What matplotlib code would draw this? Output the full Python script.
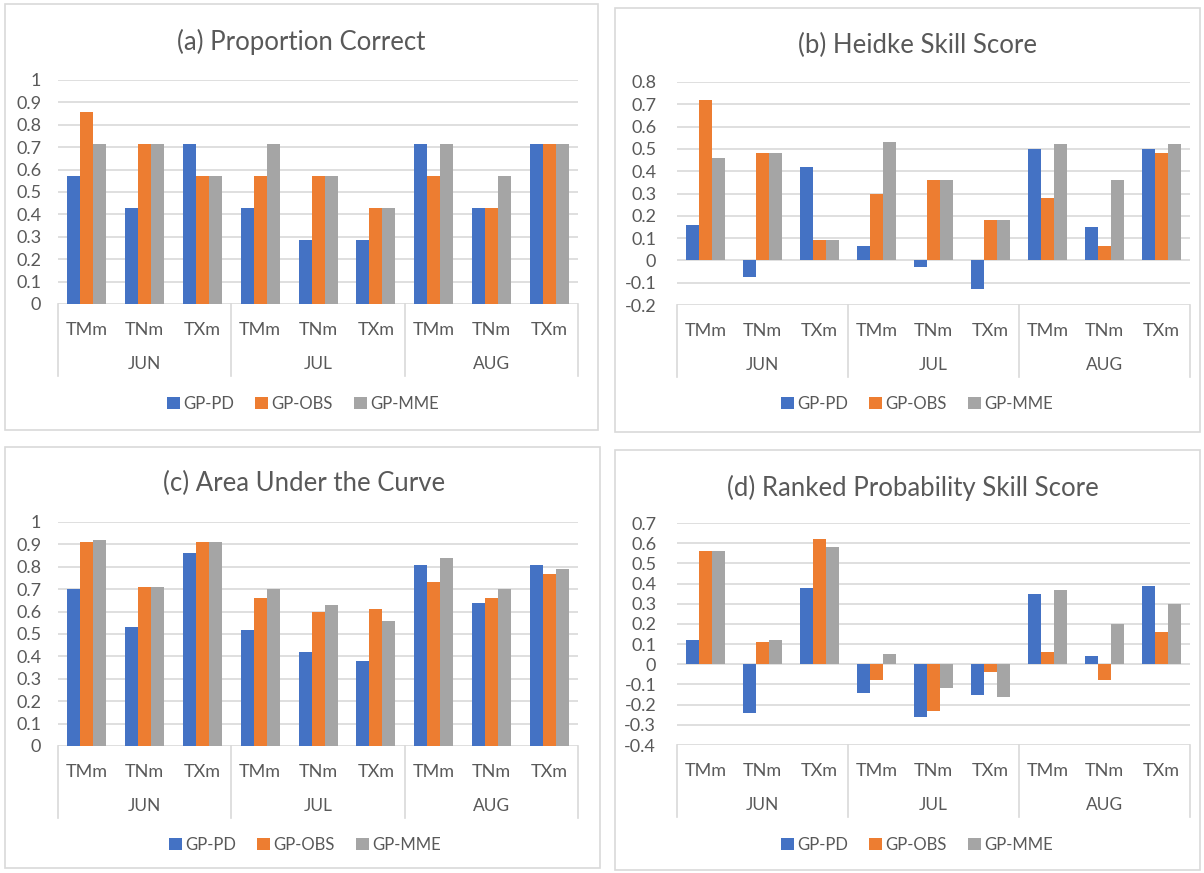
import matplotlib
matplotlib.use("Agg")
import matplotlib.pyplot as plt
from matplotlib.patches import Rectangle, Patch
from matplotlib.lines import Line2D

plt.rcParams['font.family'] = ['Lato', 'DejaVu Sans']

# ---------------- data ----------------
months = ["JUN", "JUL", "AUG"]
variables = ["TMm", "TNm", "TXm"]
series_names = ["GP-PD", "GP-OBS", "GP-MME"]

pc_pd  = [0.571, 0.429, 0.714, 0.429, 0.286, 0.286, 0.714, 0.429, 0.714]
pc_obs = [0.857, 0.714, 0.571, 0.571, 0.571, 0.429, 0.571, 0.429, 0.714]
pc_mme = [0.714, 0.714, 0.571, 0.714, 0.571, 0.429, 0.714, 0.571, 0.714]

hss_pd  = [0.16, -0.075, 0.42, 0.065, -0.03, -0.13, 0.50, 0.15, 0.50]
hss_obs = [0.72, 0.48, 0.09, 0.30, 0.36, 0.18, 0.28, 0.065, 0.48]
hss_mme = [0.46, 0.48, 0.09, 0.53, 0.36, 0.18, 0.52, 0.36, 0.52]

auc_pd  = [0.70, 0.53, 0.86, 0.52, 0.42, 0.38, 0.81, 0.64, 0.81]
auc_obs = [0.91, 0.71, 0.91, 0.66, 0.60, 0.61, 0.73, 0.66, 0.77]
auc_mme = [0.92, 0.71, 0.91, 0.70, 0.63, 0.56, 0.84, 0.70, 0.79]

rpss_pd  = [0.12, -0.24, 0.38, -0.14, -0.26, -0.15, 0.35, 0.04, 0.39]
rpss_obs = [0.56, 0.11, 0.62, -0.08, -0.23, -0.04, 0.06, -0.08, 0.16]
rpss_mme = [0.56, 0.12, 0.58, 0.05, -0.12, -0.16, 0.37, 0.20, 0.30]

titles = ["(a) Proportion Correct", "(b) Heidke Skill Score",
          "(c) Area Under the Curve", "(d) Ranked Probability Skill Score"]
yticks_a = [0, 0.1, 0.2, 0.3, 0.4, 0.5, 0.6, 0.7, 0.8, 0.9, 1]
yticks_b = [-0.2, -0.1, 0, 0.1, 0.2, 0.3, 0.4, 0.5, 0.6, 0.7, 0.8]
yticks_c = [0, 0.1, 0.2, 0.3, 0.4, 0.5, 0.6, 0.7, 0.8, 0.9, 1]
yticks_d = [-0.4, -0.3, -0.2, -0.1, 0, 0.1, 0.2, 0.3, 0.4, 0.5, 0.6, 0.7]

colors = ["#4472C4", "#ED7D31", "#A5A5A5"]
TXT = "#595959"
GRID = "#D9D9D9"

W, H = 1204, 873
fig = plt.figure(figsize=(W / 100, H / 100), dpi=100)

def fx(px):
    return px / W

def fy(py):
    return 1 - py / H

panels = [
    # data, yticks, axes box (l, t, r, b px), border box, title (x, y), legend center
    ((pc_pd, pc_obs, pc_mme), yticks_a, (58, 80, 578, 304), (5, 4, 598, 430), (301, 42), (303, 404)),
    ((hss_pd, hss_obs, hss_mme), yticks_b, (677, 82, 1190, 305), (615, 8, 1200, 432), (917, 45), (917, 404)),
    ((auc_pd, auc_obs, auc_mme), yticks_c, (58, 522, 578, 746), (5, 447, 600, 868), (304, 483), (305, 845)),
    ((rpss_pd, rpss_obs, rpss_mme), yticks_d, (677, 523, 1190, 745), (615, 450, 1200, 870), (913, 488), (917, 845)),
]

cats = [v for m in months for v in variables]
x = list(range(len(cats)))
bw = 0.225

for i, (series, yt, abox, bbox, tpos, lc) in enumerate(panels):
    fig.patches.append(Rectangle((fx(bbox[0]), fy(bbox[3])), fx(bbox[2] - bbox[0]),
                                 (bbox[3] - bbox[1]) / H, transform=fig.transFigure,
                                 fill=False, edgecolor=GRID, linewidth=1.2))
    l, t, r, b = abox
    ax = fig.add_axes([fx(l), fy(b), fx(r - l), (b - t) / H])
    for k, s in enumerate(series):
        ax.bar([xx + (k - 1) * bw for xx in x], s, width=bw, color=colors[k], zorder=3)
    ax.set_xlim(-0.5, len(cats) - 0.5)
    ax.set_ylim(yt[0], yt[-1])
    ax.set_yticks(yt)
    ax.set_yticklabels([f"{v:g}" for v in yt])
    ax.tick_params(axis='y', length=0, pad=12 if i % 2 == 0 else 15, labelsize=13, labelcolor=TXT)
    ax.set_xticks([])
    ax.yaxis.grid(True, color=GRID, linewidth=1.2, zorder=0)
    for sp in ax.spines.values():
        sp.set_visible(False)

    # multi-level category axis
    ah = b - t
    trans = ax.get_xaxis_transform()
    for j, c in enumerate(cats):
        ax.text(j, -26 / ah, c, transform=trans, ha='center', va='center',
                fontsize=13, color=TXT, clip_on=False)
    for m, name in enumerate(months):
        ax.text(m * 3 + 1, -60 / ah, name, transform=trans, ha='center', va='center',
                fontsize=12.5, color=TXT, clip_on=False)
    for sx in [-0.5, 2.5, 5.5, 8.5]:
        ax.add_line(Line2D([sx, sx], [0, -72 / ah], transform=trans, color=GRID,
                           linewidth=1.2, clip_on=False))

    fig.text(fx(tpos[0]), fy(tpos[1]), titles[i], ha='center', va='center',
             fontsize=18.5, color=TXT)

    handles = [Patch(facecolor=colors[k], edgecolor='none') for k in range(3)]
    fig.legend(handles, series_names, loc='center', bbox_to_anchor=(fx(lc[0]), fy(lc[1])),
               ncol=3, frameon=False, fontsize=12, labelcolor=TXT,
               handlelength=0.75, handleheight=0.75, handletextpad=0.2, columnspacing=1.3)

fig.savefig("out.png", dpi=100, facecolor="white")
